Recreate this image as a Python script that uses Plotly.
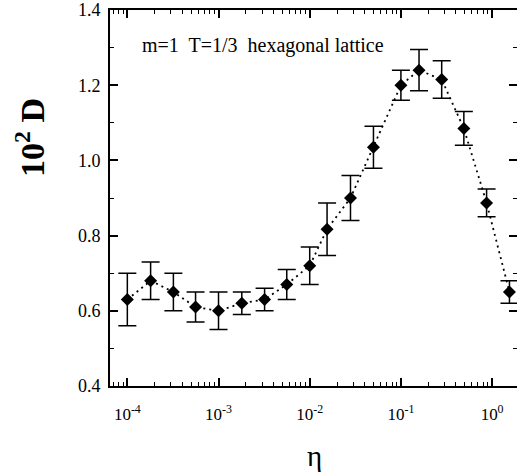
import plotly.graph_objects as go

eta = [1e-4, 1.8e-4, 3.2e-4, 5.6e-4, 1e-3, 1.8e-3, 3.2e-3, 5.6e-3, 1e-2,
       1.55e-2, 2.8e-2, 5e-2, 0.1, 0.158, 0.28, 0.49, 0.87, 1.55]
D = [0.63, 0.68, 0.65, 0.61, 0.60, 0.62, 0.63, 0.67, 0.72,
     0.817, 0.90, 1.035, 1.20, 1.24, 1.215, 1.085, 0.887, 0.65]
err = [0.07, 0.05, 0.05, 0.04, 0.05, 0.03, 0.03, 0.04, 0.05,
       0.07, 0.06, 0.056, 0.04, 0.055, 0.05, 0.045, 0.037, 0.03]

x_tickvals = [1e-4, 1e-3, 1e-2, 1e-1, 1e0]
x_ticktext = ["10<sup>-4</sup>", "10<sup>-3</sup>", "10<sup>-2</sup>",
              "10<sup>-1</sup>", "10<sup>0</sup>"]
y_tickvals = [0.4, 0.6, 0.8, 1.0, 1.2, 1.4]
y_ticktext = ["0.4", "0.6", "0.8", "1.0", "1.2", "1.4"]

FONT = "Liberation Serif"

W, H = 517, 474
l, r, t, b = 110, 0, 10, 88
pw, ph = W - l - r, H - t - b
def px(xp): return (xp - l) / pw
def py(yp): return (H - b - yp) / ph

fig = go.Figure()
fig.add_trace(go.Scatter(
    x=eta, y=D, mode="lines+markers",
    line=dict(color="black", width=1.8, dash="2px,4px"),
    marker=dict(symbol="diamond", size=10, color="black"),
    error_y=dict(type="data", array=err, visible=True, color="black",
                 thickness=1.5, width=9),
    showlegend=False,
))
# invisible trace for right-side ticks
fig.add_trace(go.Scatter(x=[eta[0]], y=[D[0]], yaxis="y2", mode="markers",
                         marker=dict(opacity=0), showlegend=False, hoverinfo="skip"))

fig.update_layout(
    width=W, height=H,
    margin=dict(l=l, r=r, t=t, b=b, autoexpand=False),
    paper_bgcolor="white", plot_bgcolor="white",
    font=dict(family=FONT, color="black"),
    xaxis=dict(
        type="log", range=[-4.19, 0.273], automargin=False,
        tickvals=x_tickvals, ticktext=x_ticktext,
        ticks="inside", ticklen=8, tickwidth=1.5, tickcolor="black",
        minor=dict(ticks="inside", ticklen=4, tickwidth=1.2, tickcolor="black", dtick="D1", showgrid=False),
        showline=True, linecolor="black", linewidth=2, mirror="ticks",
        showgrid=False, zeroline=False,
        tickfont=dict(family=FONT, size=17),
        ticklabelstandoff=12, ticklabeloverflow="allow",
    ),
    yaxis=dict(
        range=[0.4, 1.4], automargin=False,
        tickvals=y_tickvals, ticktext=y_ticktext,
        ticks="inside", ticklen=8, tickwidth=1.5, tickcolor="black",
        minor=dict(ticks="inside", ticklen=4, tickwidth=1.2, tickcolor="black", dtick=0.1, showgrid=False),
        showline=True, linecolor="black", linewidth=2, mirror=False,
        showgrid=False, zeroline=False,
        tickfont=dict(family=FONT, size=18),
        ticklabelstandoff=4, ticklabeloverflow="allow",
    ),
    yaxis2=dict(
        overlaying="y", side="right", anchor="x", range=[0.4, 1.4], automargin=False,
        tickvals=y_tickvals, showticklabels=False,
        ticks="inside", ticklen=8, tickwidth=1.5, tickcolor="black",
        minor=dict(ticks="inside", ticklen=4, tickwidth=1.2, tickcolor="black", dtick=0.1, showgrid=False),
        showline=False, showgrid=False, zeroline=False,
    ),
    annotations=[
        dict(text="m=1  T=1/3  hexagonal lattice", x=px(140), y=py(45), xref="paper", yref="paper",
             showarrow=False, xanchor="left", yanchor="middle",
             font=dict(family=FONT, size=20)),
        dict(text="<b>10<sup>2</sup> D</b>", x=px(30), y=py(138), xref="paper", yref="paper",
             showarrow=False, textangle=-90, xanchor="center", yanchor="middle",
             font=dict(family=FONT, size=34)),
        dict(text="η", x=px(314), y=py(456), xref="paper", yref="paper",
             showarrow=False, xanchor="center", yanchor="middle",
             font=dict(family=FONT, size=29)),
    ],
)

fig.write_html("out.html", config={"displayModeBar": False},
               post_script="document.body.style.margin='0';document.body.style.padding='0';")
